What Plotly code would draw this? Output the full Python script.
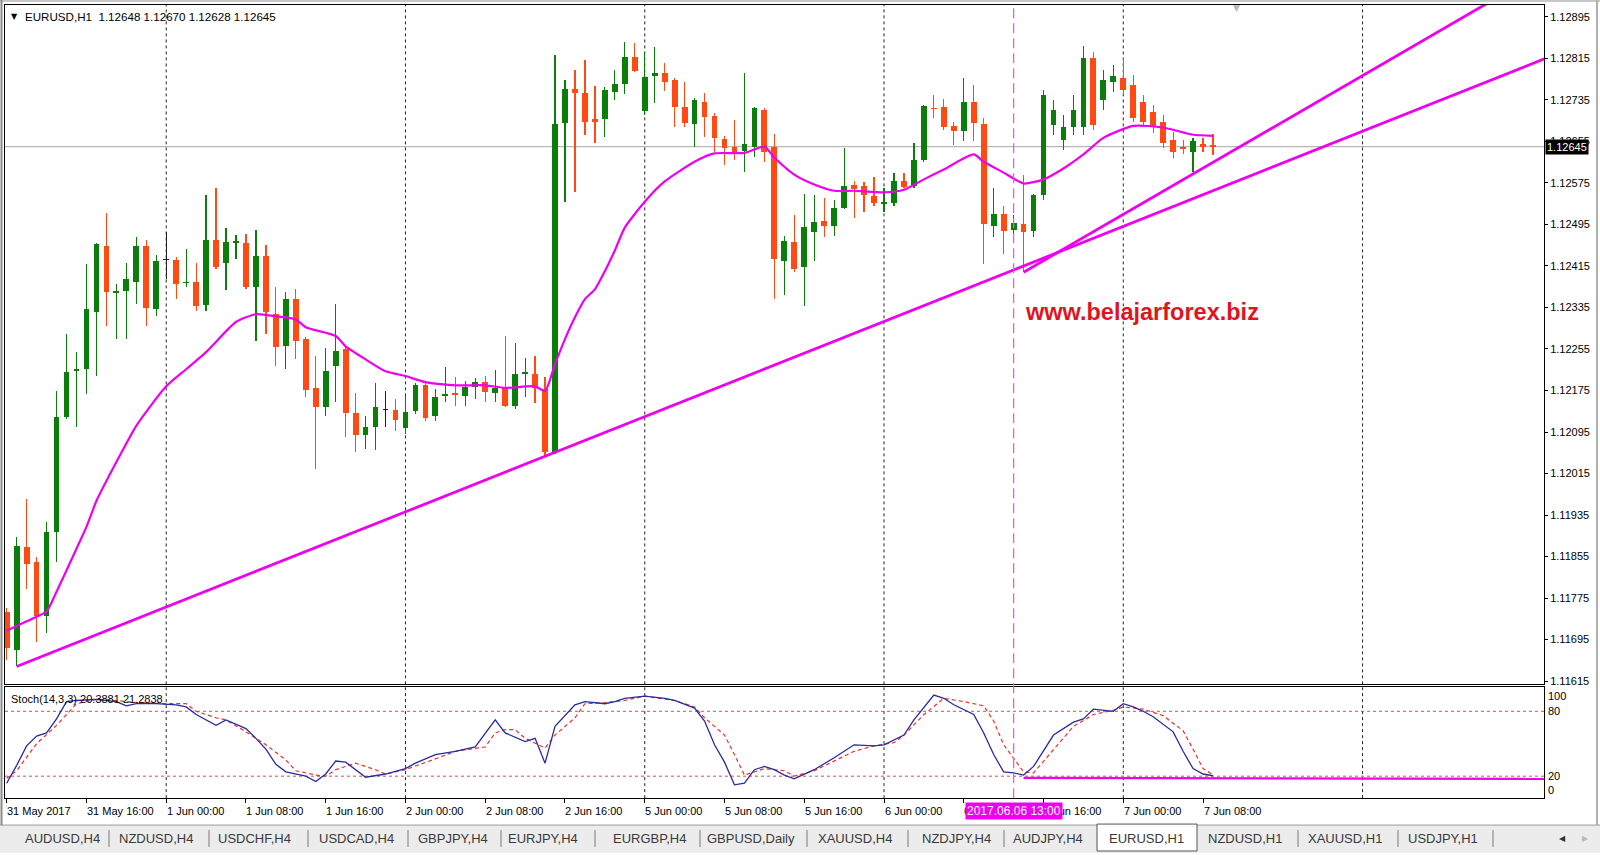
import plotly.graph_objects as go

# ---------------- data ----------------
open_price = [1.11749, 1.11674, 1.11874, 1.11845, 1.11741, 1.11903, 1.12124, 1.12212, 1.12216, 1.12326,
              1.12453, 1.12362, 1.12366, 1.12385, 1.12453, 1.12332, 1.12428, 1.12426, 1.12382, 1.12385,
              1.12339, 1.12466, 1.12420, 1.12460, 1.12460, 1.12374, 1.12434, 1.12322, 1.12260, 1.12351,
              1.12274, 1.12180, 1.12143, 1.12222, 1.12255, 1.12132, 1.12089, 1.12105, 1.12139, 1.12137,
              1.12103, 1.12135, 1.12185, 1.12126, 1.12164, 1.12170, 1.12164, 1.12182, 1.12191, 1.12170,
              1.12182, 1.12145, 1.12207, 1.12207, 1.12178, 1.12057, 1.12691, 1.12757, 1.12749, 1.12699,
              1.12699, 1.12751, 1.12766, 1.12818, 1.12714, 1.12782, 1.12787, 1.12774, 1.12722, 1.12689,
              1.12732, 1.12705, 1.12660, 1.12645, 1.12637, 1.12645, 1.12716, 1.12645, 1.12424, 1.12462,
              1.12414, 1.12480, 1.12501, 1.12493, 1.12526, 1.12572, 1.12570, 1.12549, 1.12535, 1.12537,
              1.12578, 1.12570, 1.12620, 1.12720, 1.12722, 1.12685, 1.12676, 1.12732, 1.12689, 1.12493,
              1.12516, 1.12484, 1.12495, 1.12482,
              1.12551, 1.12687, 1.12658, 1.12682, 1.12682, 1.12816, 1.12735, 1.12770, 1.12778, 1.12764,
              1.12732, 1.12712, 1.12693, 1.12658, 1.12645, 1.12635, 1.12651, 1.12648]
high_price = [1.11755, 1.11893, 1.11966, 1.11855, 1.11922, 1.12174, 1.12284, 1.12249, 1.12418, 1.12460,
              1.12518, 1.12380, 1.12420, 1.12470, 1.12466, 1.12437, 1.12480, 1.12432, 1.12447, 1.12420,
              1.12551, 1.12566, 1.12489, 1.12474, 1.12476, 1.12485, 1.12455, 1.12374, 1.12364, 1.12370,
              1.12278, 1.12241, 1.12257, 1.12341, 1.12259, 1.12170, 1.12126, 1.12189, 1.12174, 1.12158,
              1.12164, 1.12189, 1.12191, 1.12178, 1.12220, 1.12201, 1.12193, 1.12199, 1.12203, 1.12214,
              1.12280, 1.12266, 1.12237, 1.12241, 1.12201, 1.12822, 1.12774, 1.12793, 1.12812, 1.12762,
              1.12760, 1.12793, 1.12847, 1.12845, 1.12828, 1.12837, 1.12807, 1.12778, 1.12770, 1.12739,
              1.12749, 1.12710, 1.12666, 1.12697, 1.12787, 1.12722, 1.12720, 1.12670, 1.12472, 1.12514,
              1.12553, 1.12551, 1.12547, 1.12543, 1.12643, 1.12578, 1.12576, 1.12587, 1.12566, 1.12595,
              1.12595, 1.12653, 1.12726, 1.12745, 1.12737, 1.12693, 1.12778, 1.12764, 1.12701, 1.12566,
              1.12530, 1.12514, 1.12591, 1.12553,
              1.12755, 1.12735, 1.12707, 1.12745, 1.12839, 1.12828, 1.12793, 1.12803, 1.12816, 1.12784,
              1.12745, 1.12726, 1.12707, 1.12674, 1.12658, 1.12662, 1.12662, 1.12670]
low_price = [1.11655, 1.11643, 1.11793, 1.11691, 1.11707, 1.11845, 1.12120, 1.12105, 1.12168, 1.12203,
             1.12299, 1.12274, 1.12274, 1.12341, 1.12299, 1.12318, 1.12389, 1.12351, 1.12374, 1.12328,
             1.12328, 1.12409, 1.12368, 1.12428, 1.12370, 1.12270, 1.12284, 1.12222, 1.12216, 1.12235,
             1.12162, 1.12024, 1.12126, 1.12153, 1.12085, 1.12057, 1.12062, 1.12060, 1.12105, 1.12097,
             1.12091, 1.12130, 1.12116, 1.12116, 1.12153, 1.12145, 1.12145, 1.12158, 1.12153, 1.12153,
             1.12143, 1.12139, 1.12162, 1.12151, 1.12047, 1.12053, 1.12539, 1.12558, 1.12668, 1.12653,
             1.12664, 1.12734, 1.12747, 1.12789, 1.12707, 1.12730, 1.12753, 1.12683, 1.12682, 1.12645,
             1.12664, 1.12635, 1.12610, 1.12620, 1.12597, 1.12626, 1.12616, 1.12351, 1.12359, 1.12403,
             1.12337, 1.12424, 1.12470, 1.12472, 1.12524, 1.12507, 1.12520, 1.12530, 1.12520, 1.12530,
             1.12566, 1.12566, 1.12616, 1.12701, 1.12678, 1.12649, 1.12655, 1.12655, 1.12418, 1.12470,
             1.12439, 1.12466, 1.12403, 1.12470,
             1.12543, 1.12668, 1.12639, 1.12668, 1.12668, 1.12678, 1.12716, 1.12751, 1.12745, 1.12693,
             1.12682, 1.12672, 1.12643, 1.12624, 1.12630, 1.12597, 1.12635, 1.12628]
close_price = [1.11678, 1.11876, 1.11841, 1.11741, 1.11903, 1.12124, 1.12210, 1.12216, 1.12332, 1.12457,
               1.12364, 1.12366, 1.12389, 1.12453, 1.12334, 1.12424, 1.12428, 1.12380, 1.12385, 1.12337,
               1.12466, 1.12414, 1.12462, 1.12464, 1.12374, 1.12434, 1.12326, 1.12259, 1.12351, 1.12270,
               1.12176, 1.12143, 1.12212, 1.12251, 1.12132, 1.12089, 1.12105, 1.12143, 1.12139, 1.12118,
               1.12133, 1.12185, 1.12122, 1.12162, 1.12168, 1.12166, 1.12182, 1.12191, 1.12172, 1.12180,
               1.12145, 1.12207, 1.12210, 1.12180, 1.12057, 1.12689, 1.12757, 1.12749, 1.12693, 1.12693,
               1.12755, 1.12766, 1.12818, 1.12791, 1.12780, 1.12787, 1.12770, 1.12722, 1.12691, 1.12735,
               1.12703, 1.12662, 1.12643, 1.12633, 1.12651, 1.12720, 1.12635, 1.12428, 1.12464, 1.12409,
               1.12491, 1.12499, 1.12493, 1.12526, 1.12570, 1.12564, 1.12551, 1.12537, 1.12539, 1.12578,
               1.12568, 1.12620, 1.12724, 1.12718, 1.12683, 1.12676, 1.12732, 1.12691, 1.12495, 1.12516,
               1.12482, 1.12497, 1.12480, 1.12551,
               1.12745, 1.12716, 1.12682, 1.12716, 1.12816, 1.12687, 1.12774, 1.12782, 1.12755, 1.12701,
               1.12693, 1.12682, 1.12653, 1.12635, 1.12641, 1.12655, 1.12645, 1.12645]

# moving average (magenta) read at selected bars
ma_index = [0, 2, 3, 4, 5, 7, 8, 9, 11, 13, 16, 18, 20, 23, 25, 27, 29, 30, 33, 34, 36, 38, 40, 42, 45,
            48, 50, 53, 54, 55, 56, 57, 58, 59, 60, 61, 62, 64, 66, 69, 71, 74, 76, 77, 79, 81, 83, 85, 88,
            90, 92, 94, 97, 98, 100, 102, 104, 106, 108, 110, 113, 116, 119, 121]
ma_value = [1.11712, 1.11730, 1.11739, 1.11749, 1.11787, 1.11870, 1.11912, 1.11962, 1.12037, 1.12107,
            1.12183, 1.12216, 1.12249, 1.12307, 1.12322, 1.12318, 1.12312, 1.12297, 1.12280, 1.12260,
            1.12235, 1.12212, 1.12203, 1.12191, 1.12185, 1.12185, 1.12180, 1.12183, 1.12174, 1.12226,
            1.12274, 1.12316, 1.12351, 1.12370, 1.12405, 1.12445, 1.12489, 1.12539, 1.12578, 1.12616,
            1.12632, 1.12633, 1.12645, 1.12624, 1.12591, 1.12572, 1.12560, 1.12560, 1.12557, 1.12562,
            1.12582, 1.12601, 1.12630, 1.12616, 1.12595, 1.12574, 1.12582, 1.12603, 1.12630, 1.12662,
            1.12685, 1.12682, 1.12668, 1.12666]

# trend lines (anchor bar, price)
trend1_index = [1, 155]
trend1_price = [1.11643, 1.12820]
trend2_index = [102, 150]
trend2_price = [1.12403, 1.12938]
vline_index = 101
stoch_hline_index = [102, 155]
stoch_hline_value = [18.5, 17.5]

# stochastic %K / %D
k_index = [0, 1, 2, 3, 4, 5, 6, 7, 9, 11, 12, 13, 15, 17, 18, 19, 21, 22, 24, 25, 26, 27, 28, 30, 31, 32,
           33, 34, 36, 38, 40, 41, 43, 45, 47, 49, 50, 52, 53, 54, 55, 57, 58, 60, 61, 62, 64, 66, 67, 69,
           70, 71, 72, 73, 74, 75, 76, 77, 78, 79, 81, 83, 85, 87, 88, 90, 91, 93, 94, 95, 97, 98, 99, 100,
           101, 102, 103, 105, 107, 108, 109, 110, 111, 112, 113, 114, 115, 117, 118, 119, 120, 121]
k_value = [13.5, 30, 48, 57, 60, 73, 89, 90, 91, 89, 85, 87, 87, 86, 84, 77, 67, 72, 64, 55, 45, 31, 24,
           20, 15, 22, 34, 33, 19, 22, 27, 32, 40, 43, 47, 72, 60, 52, 55, 32, 66, 86, 89, 87, 89, 92, 94,
           92, 90, 83, 71, 49, 33, 12, 13.5, 26, 29, 26, 21, 17.5, 26, 37, 49, 48, 49, 58, 72, 95, 92, 86,
           77, 60, 40, 24, 23, 21, 29, 58, 70, 73, 82, 81, 80, 87, 84, 80, 75, 61, 43, 27, 22, 20.39]
d_index = [0, 1, 3, 5, 7, 9, 11, 13, 16, 18, 19, 21, 22, 24, 26, 28, 29, 31, 32, 33, 35, 37, 38, 40, 43,
           45, 48, 49, 50, 51, 52, 54, 55, 57, 58, 60, 62, 64, 67, 69, 70, 72, 73, 74, 75, 76, 78, 79, 81,
           83, 85, 87, 89, 90, 92, 94, 96, 98, 99, 100, 102, 103, 104, 106, 107, 109, 111, 112, 114, 116,
           118, 119, 120, 121]
d_value = [18, 25, 50, 67, 87, 91, 90, 88, 87, 87, 80, 74, 72, 61, 49, 35, 25, 21, 20, 26, 32, 26, 22, 26,
           36, 43, 47, 60, 63, 63, 55, 46, 58, 74, 87, 88, 90, 94, 90, 84, 74, 58, 40, 21, 24, 27, 25, 20,
           25, 34, 43, 48, 51, 58, 77, 92, 89, 85, 71, 49, 24, 23, 34, 55, 66, 77, 81, 84, 82, 76, 62, 45,
           27, 21.28]
stoch_levels = [80, 20]
stoch_level_labels = ["100", "80", "20", "0"]
stoch_level_label_values = [100, 80, 20, 0]

# axes
time_tick_index = [0, 8, 16, 24, 32, 40, 48, 56, 64, 72, 80, 88, 96, 104, 112, 120]
time_tick_text = ["31 May 2017", "31 May 16:00", "1 Jun 00:00", "1 Jun 08:00", "1 Jun 16:00",
                  "2 Jun 00:00", "2 Jun 08:00", "2 Jun 16:00", "5 Jun 00:00", "5 Jun 08:00",
                  "5 Jun 16:00", "6 Jun 00:00", "6 Jun 08:00", "6 Jun 16:00", "7 Jun 00:00",
                  "7 Jun 08:00"]
day_start_index = [16, 40, 64, 88, 112, 136]
price_ticks = ["1.12895", "1.12815", "1.12735", "1.12655", "1.12575", "1.12495", "1.12415", "1.12335",
               "1.12255", "1.12175", "1.12095", "1.12015", "1.11935", "1.11855", "1.11775", "1.11695",
               "1.11615"]
current_price = 1.12645
header_text = "EURUSD,H1\u00a0\u00a01.12648 1.12670 1.12628 1.12645"
stoch_text = "Stoch(14,3,3) 20.3881 21.2838"
cursor_time_text = "2017.06.06 13:00"
watermark = "www.belajarforex.biz"
tabs = ["AUDUSD,H4", "NZDUSD,H4", "USDCHF,H4", "USDCAD,H4", "GBPJPY,H4", "EURJPY,H4", "EURGBP,H4",
        "GBPUSD,Daily", "XAUUSD,H4", "NZDJPY,H4", "AUDJPY,H4", "EURUSD,H1", "NZDUSD,H1", "XAUUSD,H1",
        "USDJPY,H1"]

# ---------------- styling / layout helpers ----------------
W, H = 1600, 855
FONT = "Liberation Sans, Arial, sans-serif"
GREEN = "#0b7d0b"
RED = "#ff4a14"
MAGENTA = "#ee00ee"


def px(x):
    return x / W


def py(y):
    return 1 - y / H


tab_centers = [62, 156, 255, 356, 453, 543, 649, 751, 855, 956, 1048, 1146, 1245, 1345, 1443]
tab_separators = [109, 209, 308, 408, 501, 595, 700, 807, 908, 1004, 1298, 1398, 1493]

n = len(close_price)
idx = list(range(n))
colors = []
for o, c in zip(open_price, close_price):
    colors.append(GREEN if c > o else (RED if c < o else "#202020"))

min_body = 0.000014
body_base, body_h = [], []
for o, c in zip(open_price, close_price):
    h = abs(c - o)
    lo = min(o, c)
    if h < min_body:
        lo -= (min_body - h) / 2
        h = min_body
    body_base.append(lo)
    body_h.append(h)
wick_h = [h - l for h, l in zip(high_price, low_price)]

fig = go.Figure()
fig.add_trace(go.Bar(x=idx, y=wick_h, base=low_price, width=0.12, marker=dict(color=colors, line=dict(width=0)),
                     xaxis="x", yaxis="y", hoverinfo="skip", showlegend=False))
fig.add_trace(go.Bar(x=idx, y=body_h, base=body_base, width=0.58, marker=dict(color=colors, line=dict(width=0)),
                     xaxis="x", yaxis="y", hoverinfo="skip", showlegend=False))
fig.add_trace(go.Scatter(x=ma_index, y=ma_value, mode="lines",
                         line=dict(color=MAGENTA, width=2.2, shape="spline", smoothing=0.6),
                         xaxis="x", yaxis="y", hoverinfo="skip", showlegend=False))
fig.add_trace(go.Scatter(x=trend1_index, y=trend1_price, mode="lines", line=dict(color=MAGENTA, width=2.8),
                         xaxis="x", yaxis="y", hoverinfo="skip", showlegend=False))
fig.add_trace(go.Scatter(x=trend2_index, y=trend2_price, mode="lines", line=dict(color=MAGENTA, width=2.8),
                         xaxis="x", yaxis="y", hoverinfo="skip", showlegend=False))
# stochastic
fig.add_trace(go.Scatter(x=stoch_hline_index, y=stoch_hline_value, mode="lines",
                         line=dict(color=MAGENTA, width=2.2), xaxis="x2", yaxis="y2",
                         hoverinfo="skip", showlegend=False))
fig.add_trace(go.Scatter(x=d_index, y=d_value, mode="lines", line=dict(color="#e8332a", width=1.2, dash="4px,3px"),
                         xaxis="x2", yaxis="y2", hoverinfo="skip", showlegend=False))
fig.add_trace(go.Scatter(x=k_index, y=k_value, mode="lines", line=dict(color="#2a2aa0", width=1.3),
                         xaxis="x2", yaxis="y2", hoverinfo="skip", showlegend=False))

shapes = []
# window chrome
shapes.append(dict(type="rect", xref="paper", yref="paper", x0=0, x1=1, y0=0, y1=py(827),
                   fillcolor="#ececec", line=dict(width=0), layer="below"))
shapes.append(dict(type="line", xref="paper", yref="paper", x0=0, x1=1, y0=py(827), y1=py(827),
                   line=dict(color="#9a9a9a", width=1)))
shapes.append(dict(type="rect", xref="paper", yref="paper", x0=px(1097), x1=px(1197), y0=py(853), y1=py(826),
                   fillcolor="white", line=dict(color="#555555", width=1)))
for s in tab_separators:
    shapes.append(dict(type="line", xref="paper", yref="paper", x0=px(s), x1=px(s), y0=py(849), y1=py(832),
                       line=dict(color="#7a7a7a", width=1)))
shapes.append(dict(type="rect", xref="paper", yref="paper", x0=0, x1=1, y0=py(2), y1=1,
                   fillcolor="#c8c8c8", line=dict(width=0)))
shapes.append(dict(type="line", xref="paper", yref="paper", x0=px(1.5), x1=px(1.5), y0=py(827), y1=1,
                   line=dict(color="#8a8a8a", width=2)))
shapes.append(dict(type="line", xref="paper", yref="paper", x0=px(1597), x1=px(1597), y0=py(827), y1=1,
                   line=dict(color="#b0b0b0", width=2)))
# grid (day separators)
for d in day_start_index:
    shapes.append(dict(type="line", xref="x", yref="y domain", x0=d, x1=d, y0=0, y1=1,
                       line=dict(color="#222222", width=1, dash="3px,3px"), layer="below"))
    shapes.append(dict(type="line", xref="x2", yref="y2 domain", x0=d, x1=d, y0=0, y1=1,
                       line=dict(color="#222222", width=1, dash="3px,3px"), layer="below"))
# current price line
shapes.append(dict(type="line", xref="x domain", yref="y", x0=0, x1=1, y0=current_price, y1=current_price,
                   line=dict(color="#a8a8a8", width=1), layer="below"))
# stochastic levels
for lv in stoch_levels:
    shapes.append(dict(type="line", xref="x2 domain", yref="y2", x0=0, x1=1, y0=lv, y1=lv,
                       line=dict(color="#d0504a", width=1, dash="3px,3px"), layer="below"))
# vertical magenta dashed line through both panels
shapes.append(dict(type="line", xref="x", yref="paper", x0=vline_index, x1=vline_index, y0=py(800), y1=py(5),
                   line=dict(color="#e060e0", width=1.3, dash="10px,5px")))

ann = []
ann.append(dict(text="\u25bc", x=px(9), y=py(17), xref="paper", yref="paper", xanchor="left", yanchor="middle",
                showarrow=False, font=dict(family="DejaVu Sans", size=8, color="black")))
ann.append(dict(text=header_text, x=px(23), y=py(17), xref="paper", yref="paper", xanchor="left",
                yanchor="middle", showarrow=False, font=dict(family=FONT, size=11.6, color="black")))
ann.append(dict(text="\u25bc", x=px(1236), y=py(8), xref="paper", yref="paper", xanchor="center",
                yanchor="middle", showarrow=False, font=dict(family="DejaVu Sans", size=9, color="#b8b8b8")))
ann.append(dict(text=stoch_text, x=px(9), y=py(701), xref="paper", yref="paper", xanchor="left",
                yanchor="middle", showarrow=False, font=dict(family=FONT, size=11, color="black")))
ann.append(dict(text="<b>" + watermark + "</b>", x=px(1023), y=py(313), xref="paper", yref="paper",
                xanchor="left", yanchor="middle", showarrow=False,
                font=dict(family="Liberation Sans, Arial, sans-serif", size=23.5, color="#e0141e")))
lbl_y = {100: 698, 80: 713, 20: 778, 0: 792}
for t, v in zip(stoch_level_labels, stoch_level_label_values):
    ann.append(dict(text=t, x=px(1546), y=py(lbl_y[v]), xref="paper", yref="paper", xanchor="left",
                    yanchor="middle", showarrow=False, font=dict(family=FONT, size=11, color="black")))
for i, t in zip(time_tick_index, time_tick_text):
    ann.append(dict(text=t, x=i - 0.15, y=py(813), xref="x2", yref="paper", xanchor="left",
                    yanchor="middle", showarrow=False, font=dict(family=FONT, size=11, color="black")))
ann.append(dict(text=cursor_time_text, x=vline_index, y=py(813), xref="x2", yref="paper", xanchor="center",
                yanchor="middle", showarrow=False, bgcolor="#f000f0", borderpad=1,
                font=dict(family=FONT, size=12, color="white")))
ann.append(dict(text=f"{current_price:.5f}", x=px(1545), y=current_price, xref="paper", yref="y",
                xanchor="left", yanchor="middle", showarrow=False, bgcolor="black", borderpad=1,
                font=dict(family=FONT, size=11, color="white")))
for t, cx in zip(tabs, tab_centers):
    ann.append(dict(text=t, x=px(cx), y=py(840), xref="paper", yref="paper", xanchor="center",
                    yanchor="middle", showarrow=False, font=dict(family=FONT, size=13, color="#3a3a3a")))
ann.append(dict(text="\u25c0", x=px(1562), y=py(840), xref="paper", yref="paper", xanchor="center",
                yanchor="middle", showarrow=False, font=dict(family="DejaVu Sans", size=8, color="#333333")))
ann.append(dict(text="\u25b6", x=px(1585), y=py(840), xref="paper", yref="paper", xanchor="center",
                yanchor="middle", showarrow=False, font=dict(family="DejaVu Sans", size=8, color="#bbbbbb")))

XR = [-0.17, 154.2]
fig.update_layout(
    width=W, height=H, margin=dict(l=0, r=0, t=0, b=0),
    paper_bgcolor="white", plot_bgcolor="white", barmode="overlay", bargap=0,
    showlegend=False, hovermode=False,
    shapes=shapes, annotations=ann,
    xaxis=dict(domain=[px(5), px(1544)], range=XR, anchor="y", showline=True, mirror=True, linecolor="black",
               linewidth=1, showgrid=False, zeroline=False, showticklabels=False, ticks=""),
    xaxis2=dict(domain=[px(5), px(1544)], range=XR, matches="x", anchor="y2", showline=True, mirror=True,
                linecolor="black", linewidth=1, showgrid=False, zeroline=False, showticklabels=False,
                ticks="outside", ticklen=4, tickcolor="black", tickvals=time_tick_index),
    yaxis=dict(domain=[py(686), py(5)], range=[1.116085, 1.129181], anchor="x", side="right",
               showline=True, mirror=True, linecolor="black", linewidth=1, showgrid=False, zeroline=False,
               tickvals=[float(t) for t in price_ticks], ticktext=price_ticks, ticks="outside", ticklen=3,
               tickcolor="black", tickfont=dict(family=FONT, size=11, color="black")),
    yaxis2=dict(domain=[py(800), py(689)], range=[-0.3, 102.1], anchor="x2", side="right",
                showline=True, mirror=True, linecolor="black", linewidth=1, showgrid=False, zeroline=False,
                showticklabels=False, ticks=""),
)

fig.write_html(
    "out.html",
    config={"displayModeBar": False, "staticPlot": True},
    post_script=("document.documentElement.style.overflow='hidden';"
                 "document.body.style.margin='0';document.body.style.overflow='hidden';"),
)
